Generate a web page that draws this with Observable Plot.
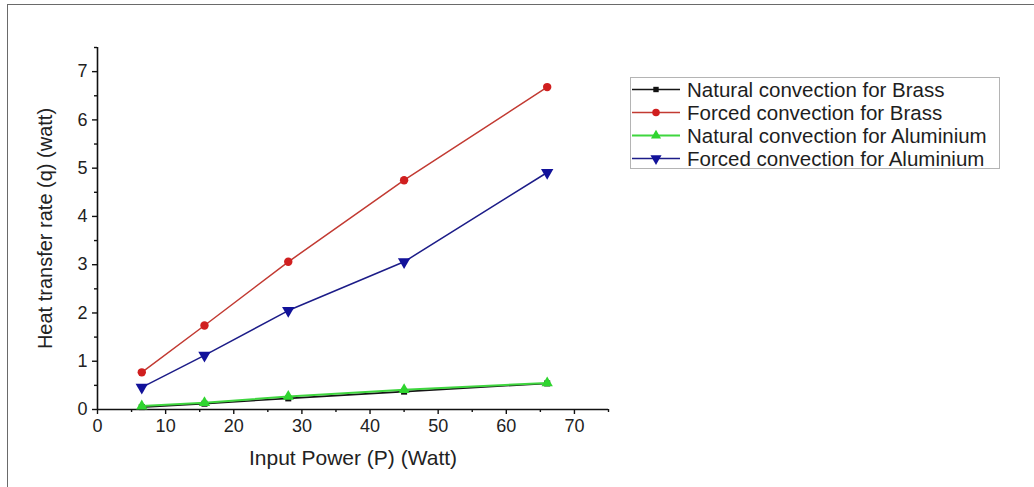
<!DOCTYPE html>
<html><head><meta charset="utf-8">
<script src="https://cdn.jsdelivr.net/npm/d3@7"></script>
<script src="https://cdn.jsdelivr.net/npm/@observablehq/plot@0.6"></script>
<style>
body{margin:0;background:#fff;font-family:"Liberation Sans",Arial,sans-serif;}
#wrap{position:relative;width:1034px;height:487px;overflow:hidden;background:#fff;}
#frameline{position:absolute;left:7px;top:4px;right:-2px;bottom:-2px;border-top:1.5px solid #6a6a6a;border-left:1.5px solid #6a6a6a;pointer-events:none;}
#legend{position:absolute;left:630px;top:77px;width:370px;height:92px;border:1px solid #b4b4b4;box-sizing:border-box;padding-top:0px;}
.row{display:flex;align-items:center;height:23px;}
.row svg{flex:none;margin-left:1px;}
.row span{font-size:20.5px;color:#1e1e1e;margin-left:7px;white-space:nowrap;line-height:23px;}
</style>
</head><body>
<div id="wrap"><div id="chart"></div><div id="legend"></div><div id="frameline"></div></div>
<script>
const powerX = [6.5, 15.7, 28, 45, 66];
const naturalBrass = [0.05, 0.12, 0.23, 0.37, 0.54];
const forcedBrass = [0.77, 1.74, 3.06, 4.75, 6.68];
const naturalAluminium = [0.07, 0.14, 0.27, 0.41, 0.55];
const forcedAluminium = [0.46, 1.12, 2.05, 3.06, 4.91];
const seriesNames = ["Natural convection for Brass", "Forced convection for Brass", "Natural convection for Aluminium", "Forced convection for Aluminium"];
const xTicks = [0, 10, 20, 30, 40, 50, 60, 70];
const xMinorTicks = [5, 15, 25, 35, 45, 55, 65, 75];
const yTicks = [0, 1, 2, 3, 4, 5, 6, 7];
const yMinorTicks = [0.5, 1.5, 2.5, 3.5, 4.5, 5.5, 6.5, 7.5];

const sqrt3 = Math.sqrt(3);
const triangleDown = {draw(ctx, size){
  const y = -Math.sqrt(size / (sqrt3 * 3));
  ctx.moveTo(0, -y * 2); ctx.lineTo(-sqrt3 * y, y); ctx.lineTo(sqrt3 * y, y); ctx.closePath();
}};

const styles = [
  {line: "#151515", fill: "#111111", symbol: "square", r: 3.4, w: 1.6},
  {line: "#c23a32", fill: "#d01f1f", symbol: "circle", r: 4.2, w: 1.5},
  {line: "#3fd63f", fill: "#2fd52f", symbol: "triangle", r: 4.2, w: 2},
  {line: "#1c1c88", fill: "#12129a", symbol: triangleDown, r: 4.6, w: 1.5}
];
const values = [naturalBrass, forcedBrass, naturalAluminium, forcedAluminium];
const data = seriesNames.map((name, i) => powerX.map((x, j) => ({series: name, x, y: values[i][j]})));

const marks = [
  Plot.axisX(xMinorTicks, {tickSize: 3, tickFormat: () => "", label: null, strokeWidth: 1.4, stroke: "#111"}),
  Plot.axisY(yMinorTicks, {tickSize: 3, tickFormat: () => "", label: null, strokeWidth: 1.4, stroke: "#111"}),
  Plot.axisX(xTicks, {tickSize: 5, tickPadding: 5, fontSize: 17, strokeWidth: 1.4, stroke: "#111", fill: "#222", label: null}),
  Plot.axisY(yTicks, {tickSize: 5, tickPadding: 5, fontSize: 17, strokeWidth: 1.4, stroke: "#111", fill: "#222", label: null}),
  Plot.axisX({ticks: [], tickSize: 0, label: "Input Power (P) (Watt)", labelAnchor: "center", labelOffset: 55, labelArrow: "none", fontSize: 21, fill: "#222"}),
  Plot.axisY({ticks: [], tickSize: 0, label: "Heat transfer rate (q) (watt)", labelAnchor: "center", labelOffset: 60, labelArrow: "none", fontSize: 20, fill: "#222"}),
  Plot.ruleY([0], {stroke: "#111", strokeWidth: 1.6}),
  Plot.ruleX([0], {stroke: "#111", strokeWidth: 1.6})
];
data.forEach((d, i) => {
  const s = styles[i];
  marks.push(Plot.line(d, {x: "x", y: "y", stroke: s.line, strokeWidth: s.w}));
  marks.push(Plot.dot(d, {x: "x", y: "y", fill: s.fill, symbol: s.symbol, r: s.r, stroke: "none"}));
});

const chart = Plot.plot({
  width: 1034, height: 487,
  marginLeft: 97, marginRight: 426, marginTop: 47, marginBottom: 78,
  style: {fontFamily: '"Liberation Sans", Arial, sans-serif', background: "transparent", color: "#222"},
  x: {domain: [0, 75]},
  y: {domain: [0, 7.5]},
  marks
});
document.getElementById("chart").appendChild(chart);
chart.querySelectorAll('g[aria-label$="tick label"]').forEach(g => {
  g.setAttribute("font-size", "18");
  g.querySelectorAll("text").forEach(t => t.style.fontSize = "18px");
});

const legend = d3.select("#legend");
seriesNames.forEach((name, i) => {
  const s = styles[i];
  const row = legend.append("div").attr("class", "row");
  const svg = row.append("svg").attr("width", 48).attr("height", 23);
  svg.append("line").attr("x1", 0).attr("x2", 48).attr("y1", 11.5).attr("y2", 11.5).attr("stroke", s.line).attr("stroke-width", s.w);
  const sym = typeof s.symbol === "string" ? {square: d3.symbolSquare, circle: d3.symbolCircle, triangle: d3.symbolTriangle}[s.symbol] : s.symbol;
  svg.append("path").attr("transform", "translate(24,11.5)").attr("d", d3.symbol(sym, Math.PI * s.r * s.r * 0.8)()).attr("fill", s.fill);
  row.append("span").text(name);
});
</script>
</body></html>
